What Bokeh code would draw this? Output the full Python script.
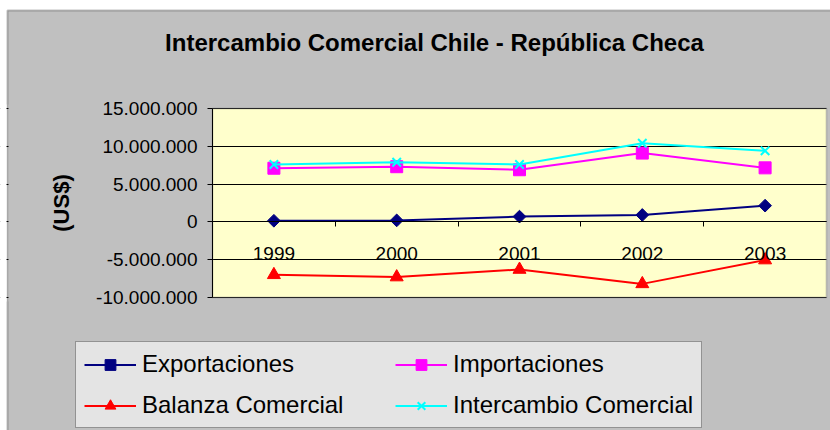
from bokeh.plotting import figure
from bokeh.models import (Range1d, LinearAxis, FixedTicker, Legend, LegendItem, Label,
                          Grid, BoxAnnotation)
from bokeh.embed import file_html
from bokeh.resources import INLINE
import math

# ---- data ----
years = ["1999", "2000", "2001", "2002", "2003"]
exportaciones = [150_000, 200_000, 700_000, 920_000, 2_150_000]
importaciones = [7_100_000, 7_300_000, 6_900_000, 9_100_000, 7_150_000]
balanza = [-7_000_000, -7_300_000, -6_300_000, -8_200_000, -5_050_000]
intercambio = [7_600_000, 7_900_000, 7_600_000, 10_400_000, 9_400_000]
y_ticks = [-10_000_000, -5_000_000, 0, 5_000_000, 10_000_000, 15_000_000]
y_tick_labels = ["-10.000.000", "-5.000.000", "0", "5.000.000", "10.000.000", "15.000.000"]
title_text = "Intercambio Comercial Chile - República Checa"

x = list(range(1, len(years) + 1))
FONT = "Liberation Sans"
GRAY = "#C0C0C0"

series = [
    ("Exportaciones", exportaciones, "#000080", "square", 9, math.pi / 4),
    ("Importaciones", importaciones, "#FF00FF", "square", 12, 0),
    ("Balanza Comercial", balanza, "#FF0000", "triangle", 13, 0),
    ("Intercambio Comercial", intercambio, "#00FFFF", "x", 12, 0),
]

# ---- layout (pixels) ----
W, H = 830, 430
PL, PR, PT, PB = 212, 826, 108, 297      # plot-area edges on the page
x0, x1 = x[0] - 0.5, x[-1] + 0.5
ux = (x1 - x0) / (PR - PL)
uy = (y_ticks[-1] - y_ticks[0]) / (PB - PT)
xr = Range1d(x0 - PL * ux, x1 + (W - PR) * ux)
yr = Range1d(y_ticks[0] - (H - PB) * uy, y_ticks[-1] + PT * uy)
ylo, yhi = y_ticks[0] - 4 * uy, y_ticks[-1] + 4 * uy

p = figure(width=W, height=H, output_backend="svg", toolbar_location=None,
           title=None, x_range=xr, y_range=yr,
           x_axis_type=None, y_axis_type=None,
           min_border_left=0, min_border_right=0, min_border_top=0, min_border_bottom=0)
p.background_fill_color = "white"
p.border_fill_color = "white"
p.outline_line_color = None

# chart area (gray with dark border) and plot area fill (light yellow)
p.add_layout(BoxAnnotation(left=7, right=W + 20, bottom=-20, top=H - 10,
                           left_units="screen", right_units="screen",
                           bottom_units="screen", top_units="screen",
                           fill_color=GRAY, fill_alpha=1,
                           line_color="#303030", line_width=2, level="image"))
p.add_layout(BoxAnnotation(left=x0, right=x1, bottom=y_ticks[0], top=y_ticks[-1],
                           fill_color="#FFFFCC", fill_alpha=1,
                           line_color=None, level="image"))

# horizontal grid
p.add_layout(Grid(dimension=1, ticker=FixedTicker(ticks=y_ticks),
                  grid_line_color="black", grid_line_width=1))

# keep grid lines inside the plot area
p.add_layout(BoxAnnotation(left=-20, right=6, bottom=ylo, top=yhi,
                           left_units="screen", right_units="screen",
                           fill_color="white", fill_alpha=1, line_color=None,
                           level="underlay"))
p.add_layout(BoxAnnotation(left=8, right=x0, bottom=ylo, top=yhi,
                           left_units="screen",
                           fill_color=GRAY, fill_alpha=1, line_color=None,
                           level="underlay"))
p.add_layout(BoxAnnotation(left=x1, right=W + 20, bottom=ylo, top=yhi,
                           right_units="screen",
                           fill_color=GRAY, fill_alpha=1, line_color=None,
                           level="underlay"))
# plot-area outline
p.add_layout(BoxAnnotation(left=x0, right=x1, bottom=y_ticks[0], top=y_ticks[-1],
                           fill_alpha=0, line_color="#808080", line_width=2,
                           level="underlay"))

# y axis
ya = LinearAxis(fixed_location=x0, bounds=(y_ticks[0], y_ticks[-1]),
                ticker=FixedTicker(ticks=y_ticks),
                major_label_overrides={t: l for t, l in zip(y_ticks, y_tick_labels)},
                major_label_text_font=FONT, major_label_text_font_size="19px",
                major_label_text_color="black",
                major_tick_out=5, major_tick_in=0, minor_tick_out=0, minor_tick_in=0,
                major_label_standoff=10,
                axis_line_color="black", major_tick_line_color="black",
                axis_label="(US$)", axis_label_text_font=FONT,
                axis_label_text_font_size="22px", axis_label_text_font_style="bold",
                axis_label_text_color="black", axis_label_standoff=19)
p.add_layout(ya, "left")

# x axis crossing at zero
xa = LinearAxis(fixed_location=0, bounds=(x0, x1),
                ticker=FixedTicker(ticks=x, minor_ticks=[i + 0.5 for i in x[:-1]]),
                major_label_overrides={i: yr_ for i, yr_ in zip(x, years)},
                major_tick_out=0, major_tick_in=0,
                minor_tick_out=5, minor_tick_in=0,
                minor_tick_line_color="black",
                axis_line_color="black",
                major_label_standoff=20,
                major_label_text_font=FONT,
                major_label_text_font_size="19px",
                major_label_text_color="black")
p.add_layout(xa, "below")

items = []
for name, vals, color, marker, size, ang in series:
    lr = p.line(x, vals, line_color=color, line_width=2)
    sr = p.scatter(x, vals, marker=marker, size=size, angle=ang,
                   fill_color=color, line_color=color, line_width=2 if marker == "x" else 1)
    items.append(LegendItem(label=name, renderers=[lr, sr]))

legend = Legend(items=items, location=(75, 2), orientation="horizontal", ncols=2,
                label_text_font=FONT, label_text_font_size="24px", label_text_color="black",
                glyph_width=52, glyph_height=27, label_height=27, label_width=240,
                label_standoff=6, spacing=13, padding=8, margin=0,
                background_fill_color="#E4E4E4", background_fill_alpha=1,
                border_line_color="#404040", border_line_width=1)
p.add_layout(legend, "center")

p.add_layout(Label(x=434, y=H - 42, x_units="screen", y_units="screen", text=title_text,
                   text_align="center", text_baseline="middle",
                   text_font=FONT, text_font_size="24px", text_font_style="bold",
                   text_color="black"))

open("out.html", "w").write(file_html(p, INLINE))
